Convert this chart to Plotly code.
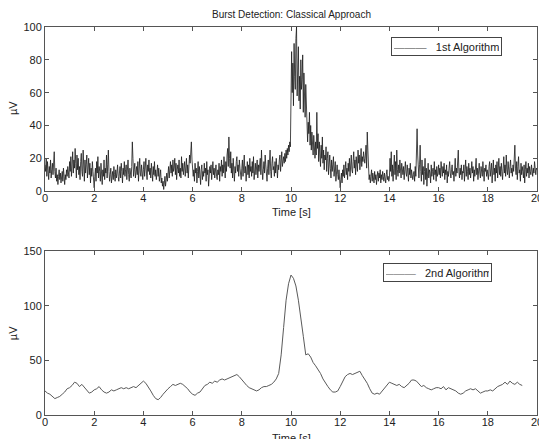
import plotly.graph_objects as go

# ---- data: 1st algorithm, one row per second ----
alg1_rows = [
    [16,12,20,9,18,14,7,15,11,19,8,13,17,10,22,24,12,8,14,6,10,4,9,13,7,11,5,8,12,6,14,9,4,10,7,13,9,15,11,8],
    [18,12,21,9,16,24,11,19,14,26,17,8,22,13,20,10,15,7,18,23,12,9,25,14,6,19,11,16,22,8,13,20,10,17,5,14,9,18,12,7],
    [2,9,14,6,18,11,21,8,15,12,6,17,10,4,13,9,19,7,14,11,22,8,16,25,12,6,10,14,5,9,12,7,15,10,6,13,8,11,16,9],
    [6,11,15,8,17,12,5,14,10,18,9,13,16,7,12,19,10,6,14,11,8,15,30,20,9,13,17,8,12,15,10,18,6,14,20,11,9,16,12,7],
    [13,18,9,15,20,11,7,16,12,19,10,14,8,17,12,6,15,10,18,9,13,7,11,16,9,14,6,10,13,5,8,3,6,1,4,9,3,7,11,6],
    [10,15,8,13,18,11,16,9,19,12,14,20,10,17,7,13,16,11,19,9,14,8,21,12,17,10,15,18,9,13,20,11,16,8,14,22,17,25,30,19],
    [15,9,13,6,17,11,14,5,12,18,8,15,10,4,13,16,7,12,9,17,11,14,6,18,10,13,3,9,15,11,16,7,13,18,10,14,8,12,16,9],
    [7,13,10,17,6,15,12,19,9,16,11,21,14,8,18,12,22,26,15,33,20,14,24,11,17,8,20,13,6,15,11,18,21,12,16,9,19,14,10,7],
    [14,19,9,17,22,11,15,6,13,18,10,16,8,20,12,15,9,18,11,21,7,14,17,10,13,19,8,16,12,15,20,10,25,14,7,13,18,11,22,16],
    [12,6,14,19,10,16,25,12,8,17,21,13,15,9,18,11,20,14,8,16,13,19,22,12,17,24,15,19,21,17,23,18,25,20,26,22,28,24,30,27],
    [45,85,60,78,52,90,70,62,93,100,58,75,88,55,70,50,80,62,68,83,48,72,60,45,65,52,38,30,42,35,48,28,40,25,36,30,22,34,27,20],
    [30,22,48,26,35,18,30,24,15,28,20,33,17,25,13,22,19,27,12,20,24,10,17,22,14,8,19,12,16,21,9,14,18,6,12,16,10,7,13,5],
    [2,7,11,5,13,9,16,8,12,18,10,14,7,17,12,20,9,15,22,13,11,18,24,14,19,10,21,16,12,25,17,22,13,19,26,15,21,18,24,20],
    [17,22,28,14,36,25,12,7,10,5,9,13,6,11,8,5,12,7,10,4,9,12,6,11,8,13,5,10,7,12,9,6,11,8,5,10,13,7,9,6],
    [8,20,12,24,9,16,6,14,22,10,18,7,25,13,9,16,11,19,14,8,17,12,10,15,7,13,18,11,9,16,12,6,14,10,17,8,13,11,7,10],
    [12,6,15,9,20,38,22,11,8,16,28,12,6,19,10,15,4,12,20,7,14,3,10,17,8,13,11,5,16,9,12,14,7,18,10,13,6,15,9,11],
    [16,10,14,8,18,12,9,15,11,17,7,13,10,16,5,12,9,14,18,11,8,13,16,10,12,6,15,20,9,14,11,17,25,12,8,14,10,16,7,12],
    [11,16,6,13,19,9,15,12,7,17,10,14,8,12,18,11,15,6,13,9,16,20,10,14,7,12,17,11,8,15,13,9,18,10,6,14,12,16,9,13],
    [11,7,15,18,9,13,17,5,12,19,10,14,6,16,11,18,8,13,20,10,15,9,17,12,7,14,21,11,16,9,22,13,10,18,12,8,15,19,11,14],
    [9,16,12,20,28,14,10,18,7,15,21,11,13,6,17,10,15,12,8,16,5,13,18,9,14,11,17,8,15,12,10,16,13,9,14,11,18,12,10,14],
    [13],
]

# ---- 2nd algorithm, 0.1 s steps from 0 to 19.4 s ----
dt2 = 0.1
alg2 = [
    22,20,19,17,15,16,17,19,21,24,
    25,27,30,29,26,28,25,22,20,21,
    23,24,26,23,21,20,21,23,22,23,
    24,25,24,25,24,25,26,25,27,29,
    31,29,26,22,18,15,14,16,19,22,
    24,26,28,27,28,29,28,26,24,21,
    19,18,20,21,24,27,28,30,29,31,
    30,32,33,32,33,34,35,36,37,35,
    32,29,27,25,24,23,22,23,25,26,
    26,27,28,30,33,38,55,80,105,120,
    128,125,118,105,90,72,55,56,53,48,
    45,42,38,33,29,26,23,21,21,22,
    26,31,35,37,38,37,38,39,40,36,
    33,29,24,20,19,20,19,22,25,28,
    30,29,28,27,28,26,25,27,29,32,
    32,31,28,26,27,25,24,23,24,25,
    25,24,26,23,25,24,23,22,20,19,
    20,22,23,24,23,24,22,20,21,22,
    22,23,22,24,26,27,28,30,28,31,
    29,28,30,28,27,
]

t1, alg1 = [], []
for sec, row in enumerate(alg1_rows):
    for j, v in enumerate(row):
        t1.append(sec + j / len(row))
        alg1.append(v)
t2 = [round(i * dt2, 3) for i in range(len(alg2))]

x_ticks = list(range(0, 21, 2))
y1_ticks = [0, 20, 40, 60, 80, 100]
y2_ticks = [0, 50, 100, 150]
names = ["1st Algorithm", "2nd Algorithm"]

FONT = "Liberation Sans, Arial, sans-serif"

fig = go.Figure()
fig.add_trace(go.Scatter(x=t1, y=alg1, mode="lines", name=names[0],
                         line=dict(color="#1a1a1a", width=0.8),
                         xaxis="x", yaxis="y", showlegend=False))
fig.add_trace(go.Scatter(x=t2, y=alg2, mode="lines", name=names[1],
                         line=dict(color="#5a5a5a", width=1),
                         xaxis="x2", yaxis="y2", showlegend=False))

axis_common = dict(showline=True, linecolor="#555", linewidth=1, mirror="ticks",
                   ticks="inside", ticklen=4, tickcolor="#555", showgrid=False,
                   zeroline=False, tickfont=dict(family=FONT, size=11, color="#222"))

def legend_box(text, x, y, w, color):
    return dict(text="<span style='color:%s'>———</span>   %s" % (color, text),
                x=x, y=y, xref="paper", yref="paper", xanchor="left", yanchor="top",
                showarrow=False, bordercolor="#444", borderwidth=1, borderpad=2,
                bgcolor="white", width=w, height=13, align="center",
                font=dict(family=FONT, size=11, color="#222"))

fig.update_layout(
    width=547, height=439,
    margin=dict(l=37, r=14, t=19, b=32),
    paper_bgcolor="white", plot_bgcolor="white",
    font=dict(family=FONT, size=11, color="#222"),
    showlegend=False,
    xaxis=dict(domain=[0, 1], range=[0, 20], tickvals=x_ticks, anchor="y",
               ticklabelstandoff=-3, **axis_common),
    yaxis=dict(domain=[0.577, 1], range=[0, 100], tickvals=y1_ticks, anchor="x", **axis_common),
    xaxis2=dict(domain=[0, 1], range=[0, 20], tickvals=x_ticks, anchor="y2",
                ticklabelstandoff=-3, **axis_common),
    yaxis2=dict(domain=[0, 0.4227], range=[0, 150], tickvals=y2_ticks, anchor="x2", **axis_common),
    annotations=[
        dict(text="Burst Detection: Classical Approach", x=0.5, y=1.033, xref="paper", yref="paper",
             showarrow=False, xanchor="center", yanchor="middle", font=dict(size=10)),
        dict(text="Time [s]", x=0.5, y=0.523, xref="paper", yref="paper",
             showarrow=False, xanchor="center", yanchor="middle", font=dict(size=11)),
        dict(text="Time [s]", x=0.5, y=-0.058, xref="paper", yref="paper",
             showarrow=False, xanchor="center", yanchor="middle", font=dict(size=11)),
        dict(text="µV", x=-0.065, y=0.791, xref="paper", yref="paper", textangle=-90,
             showarrow=False, xanchor="center", yanchor="middle", font=dict(size=11)),
        dict(text="µV", x=-0.065, y=0.211, xref="paper", yref="paper", textangle=-90,
             showarrow=False, xanchor="center", yanchor="middle", font=dict(size=11)),
        legend_box(names[0], 0.7036, 0.974, 105, "#777"),
        legend_box(names[1], 0.6875, 0.392, 103, "#888"),
    ],
)

fig.write_html("out.html")
